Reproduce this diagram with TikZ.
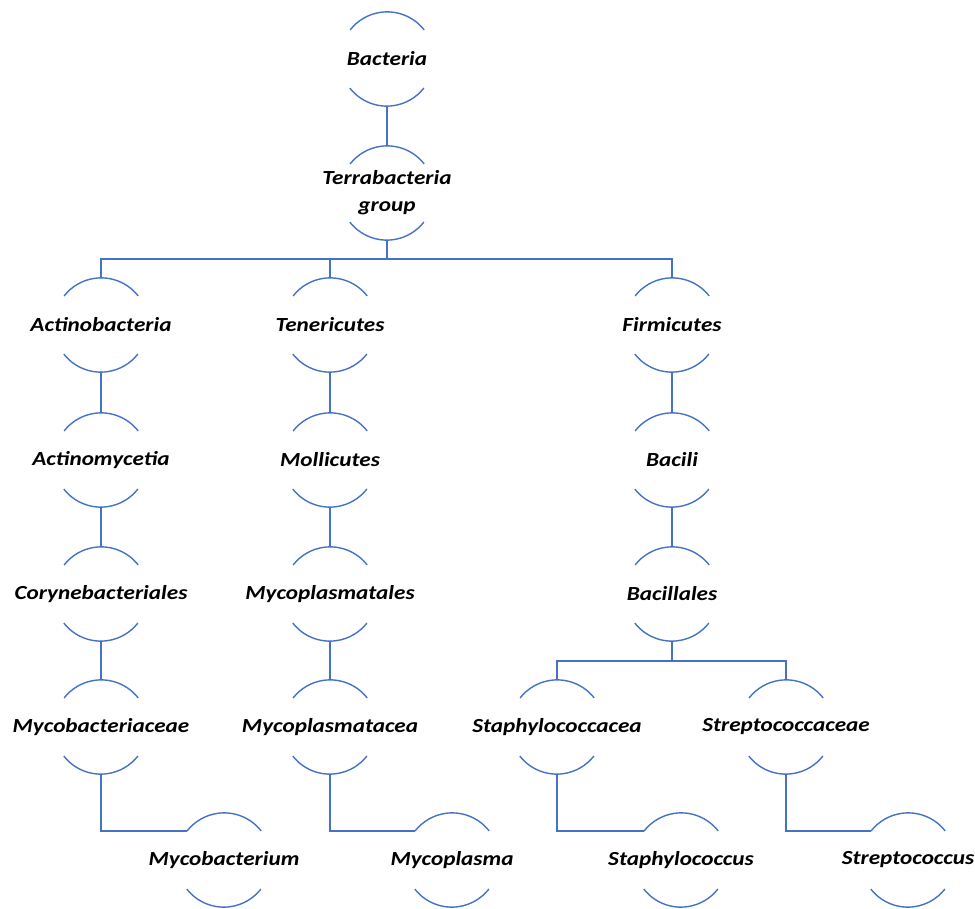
\documentclass[tikz,border=0pt]{standalone}
\usepackage{fontspec}
\usepackage{graphicx}
\setmainfont{Carlito}
\definecolor{linkblue}{RGB}{68,114,196}
% names are set slightly wide, centred on a zero-width box
\newcommand{\taxname}[1]{\makebox[0pt][c]{\scalebox{1.16}[1]{#1}}}
\newcommand{\taxtwo}[2]{\makebox[0pt][c]{\scalebox{1.16}[1]{\begin{tabular}{@{}c@{}}#1\\#2\end{tabular}}}}
\tikzset{
  link/.style={draw=linkblue, line width=1.4pt},
  taxon/.style={circle, minimum size=94pt, inner sep=0pt,
    font=\fontsize{20}{27}\selectfont\bfseries\itshape},
}
\begin{document}
\begin{tikzpicture}[x=1pt, y=1pt]
  \useasboundingbox (0,0) rectangle (975,-909);

  % ranks from domain down to genus
  \node[taxon] (bact)  at (387,-59)  {\taxname{Bacteria}};
  \node[taxon] (terra) at (387,-193) {\taxtwo{Terrabacteria}{group}};

  \node[taxon] (actb)  at (101,-325) {\taxname{Actinobacteria}};
  \node[taxon] (tene)  at (330,-325) {\taxname{Tenericutes}};
  \node[taxon] (firm)  at (672,-325) {\taxname{Firmicutes}};

  \node[taxon] (actm)  at (101,-460) {\taxname{Actinomycetia}};
  \node[taxon] (moll)  at (330,-460) {\taxname{Mollicutes}};
  \node[taxon] (baci)  at (672,-460) {\taxname{Bacili}};

  \node[taxon] (cory)  at (101,-594) {\taxname{Corynebacteriales}};
  \node[taxon] (mplo)  at (330,-594) {\taxname{Mycoplasmatales}};
  \node[taxon] (bacl)  at (672,-594) {\taxname{Bacillales}};

  \node[taxon] (mbfa)  at (101,-727) {\taxname{Mycobacteriaceae}};
  \node[taxon] (mpfa)  at (330,-727) {\taxname{Mycoplasmatacea}};
  \node[taxon] (stfa)  at (557,-727) {\taxname{Staphylococcacea}};
  \node[taxon] (srfa)  at (786,-727) {\taxname{Streptococcaceae}};

  \node[taxon] (mbge)  at (224,-860) {\taxname{Mycobacterium}};
  \node[taxon] (mpge)  at (452,-860) {\taxname{Mycoplasma}};
  \node[taxon] (stge)  at (681,-860) {\taxname{Staphylococcus}};
  \node[taxon] (srge)  at (908,-860) {\taxname{Streptococcus}};

  % upper and lower arcs of every rank circle
  \foreach \n in {bact,terra,actb,tene,firm,actm,moll,baci,cory,mplo,bacl,
                  mbfa,mpfa,stfa,srfa,mbge,mpge,stge,srge}{
    \draw[link] (\n.38) arc[start angle=38, end angle=142, radius=47pt];
    \draw[link] (\n.218) arc[start angle=218, end angle=322, radius=47pt];
  }

  % bus lines for the branching ranks
  \coordinate (busA) at (387,-259);
  \coordinate (busB) at (672,-661);

  \draw[link] (bact.south) -- (terra.north);
  \draw[link] (terra.south) -- (terra.south |- busA);
  \draw[link] (actb.north) |- (busA) -| (firm.north);
  \draw[link] (tene.north) -- (tene.north |- busA);

  \draw[link] (actb.south) -- (actm.north);
  \draw[link] (actm.south) -- (cory.north);
  \draw[link] (cory.south) -- (mbfa.north);

  \draw[link] (tene.south) -- (moll.north);
  \draw[link] (moll.south) -- (mplo.north);
  \draw[link] (mplo.south) -- (mpfa.north);

  \draw[link] (firm.south) -- (baci.north);
  \draw[link] (baci.south) -- (bacl.north);
  \draw[link] (bacl.south) -- (busB);
  \draw[link] (stfa.north) |- (busB) -| (srfa.north);

  % genus leaves hang off the left end of their upper arc
  \draw[link] (mbfa.south) |- (mbge.142);
  \draw[link] (mpfa.south) |- (mpge.142);
  \draw[link] (stfa.south) |- (stge.142);
  \draw[link] (srfa.south) |- (srge.142);
\end{tikzpicture}
\end{document}
